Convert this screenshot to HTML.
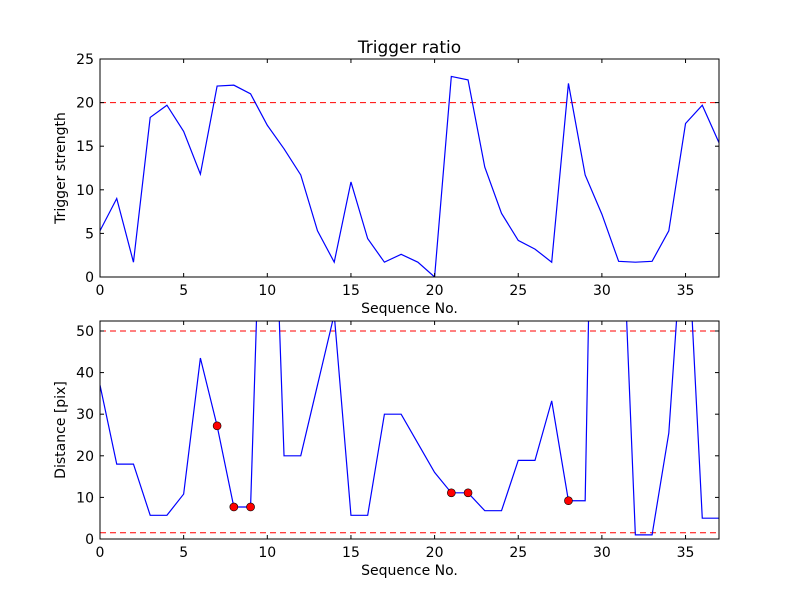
<!DOCTYPE html>
<html><head><meta charset="utf-8"><style>
body{margin:0;background:#fff}
text{font-family:"DejaVu Sans","Liberation Sans",sans-serif;fill:#000}
</style></head><body>
<svg id="chart" width="800" height="600" xmlns="http://www.w3.org/2000/svg">
<rect width="800" height="600" fill="#fff"/>
</svg>
<script>
const seq = [0,1,2,3,4,5,6,7,8,9,10,11,12,13,14,15,16,17,18,19,20,21,22,23,24,25,26,27,28,29,30,31,32,33,34,35,36,37];
const triggerStrength = [5.3,9,1.7,18.3,19.7,16.7,11.8,21.9,22,21,17.4,14.7,11.7,5.3,1.7,10.9,4.4,1.7,2.6,1.7,0,23,22.6,12.6,7.3,4.2,3.2,1.7,22.2,11.7,7.2,1.8,1.7,1.8,5.3,17.6,19.7,15.4];
const distance = [37,18,18,5.7,5.7,10.8,43.5,27.2,7.7,7.7,135,20,20,37,54,5.7,5.7,30,30,23,16,11.1,11.1,6.8,6.8,18.9,18.9,33.2,9.2,9.2,225,100,1,1,25.5,84,5,5];
const markedIdx = [7,8,9,21,22,28];
const topThresholds = [20];
const botThresholds = [50,1.5];
const xTicks = [0,5,10,15,20,25,30,35];
const topYTicks = [0,5,10,15,20,25];
const botYTicks = [0,10,20,30,40,50];

const svg = document.getElementById('chart');
const NS = 'http://www.w3.org/2000/svg';
function mk(tag, attrs, parent){const e=document.createElementNS(NS,tag);for(const k in attrs)e.setAttribute(k,attrs[k]);(parent||svg).appendChild(e);return e;}

function panel(cfg){
  const {x0,x1,y0,y1,ymax,data,thr,yticks,ylabel,prefix} = cfg;
  const g = mk('g',{});
  
  
  const xs = v => x0 + (v-0)/(37-0)*(x1-x0);
  const ys = v => y1 - v/ymax*(y1-y0);
  const clipId = prefix+'-clip';
  const cp = mk('clipPath',{id:clipId},g);
  mk('rect',{x:x0,y:y0,width:x1-x0,height:y1-y0},cp);
  thr.forEach(t=>{
    const l = mk('line',{x1:x0,x2:x1,y1:ys(t),y2:ys(t),stroke:'#ff0000','stroke-dasharray':'6,4','stroke-width':1},g);
    
    
  });
  const pts = seq.map((s,i)=>xs(s).toFixed(2)+','+ys(data[i]).toFixed(2)).join(' ');
  const pl = mk('polyline',{points:pts,fill:'none',stroke:'#0000ff','stroke-width':1.2,'clip-path':'url(#'+clipId+')'},g);
  
  
  if(cfg.markers){
    cfg.markers.forEach(i=>{
      const c = mk('circle',{cx:xs(seq[i]),cy:ys(data[i]),r:4,fill:'#ff0000',stroke:'#000','stroke-width':0.6},g);
      
      
    });
  }
  const fr = mk('rect',{x:x0,y:y0,width:x1-x0,height:y1-y0,fill:'none',stroke:'#000','stroke-width':1},g);
  
  
  xTicks.forEach(t=>{
    const X = xs(t);
    mk('line',{x1:X,x2:X,y1:y1,y2:y1-4,stroke:'#000'},g);
    mk('line',{x1:X,x2:X,y1:y0,y2:y0+4,stroke:'#000'},g);
    const tx = mk('text',{x:X,y:y1+18,'text-anchor':'middle','font-size':14},g);
    tx.textContent = t;
    
    
  });
  yticks.forEach(t=>{
    const Y = ys(t);
    mk('line',{x1:x0,x2:x0+4,y1:Y,y2:Y,stroke:'#000'},g);
    mk('line',{x1:x1,x2:x1-4,y1:Y,y2:Y,stroke:'#000'},g);
    const tx = mk('text',{x:x0-6,y:Y+5,'text-anchor':'end','font-size':14},g);
    tx.textContent = t;
    
    
  });
  const xl = mk('text',{x:(x0+x1)/2,y:y1+36,'text-anchor':'middle','font-size':14},g);
  xl.textContent = 'Sequence No.';
  
  
  const yl = mk('text',{x:0,y:0,'text-anchor':'middle','font-size':14,transform:'translate(65,'+((y0+y1)/2)+') rotate(-90)'},g);
  yl.textContent = ylabel;
  
  
}

const title = mk('text',{x:409.5,y:53,'text-anchor':'middle','font-size':17});
title.textContent = 'Trigger ratio';



panel({x0:100,x1:719,y0:59,y1:277,ymax:25,data:triggerStrength,thr:topThresholds,yticks:topYTicks,ylabel:'Trigger strength',prefix:'trigger'});
panel({x0:100,x1:719,y0:321,y1:539,ymax:52.4,data:distance,thr:botThresholds,yticks:botYTicks,ylabel:'Distance [pix]',prefix:'distance',markers:markedIdx});
</script>
</body></html>
